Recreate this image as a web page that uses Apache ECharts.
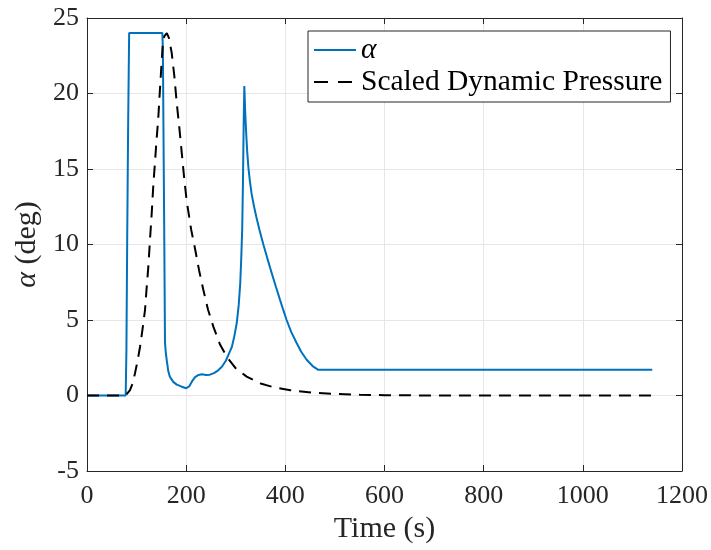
<!DOCTYPE html>
<html>
<head>
<meta charset="utf-8">
<script src="https://cdn.jsdelivr.net/npm/echarts@6/dist/echarts.min.js"></script>
<style>
html,body{margin:0;padding:0;background:#fff;}
#chart{width:711px;height:550px;}
</style>
</head>
<body>
<div id="chart"></div>
<script>
// ---- data ----
const xTicks = [0, 200, 400, 600, 800, 1000, 1200];
const yTicks = [-5, 0, 5, 10, 15, 20, 25];

const alphaTime = [0, 78, 79.5, 81, 83, 85, 152, 153, 155.5, 157.3, 159, 161, 164, 167, 174, 181, 190, 200, 203, 206, 212, 218, 225, 232, 240, 248, 256, 264, 272, 280, 288, 292, 297, 302, 306, 309, 311, 313, 314.5, 316, 317.3, 319, 321, 323, 325.5, 328.5, 332, 337, 342, 348, 355.7, 364, 372.6, 381, 389.3, 396, 402.6, 412, 422.8, 432, 443, 455, 466.5, 1140];
const alphaVal  = [0, 0, 3, 10, 18, 24, 24, 23, 12, 3.5, 2.8, 2.3, 1.6, 1.25, 0.9, 0.72, 0.6, 0.48, 0.5, 0.6, 0.95, 1.22, 1.36, 1.4, 1.36, 1.38, 1.48, 1.65, 1.9, 2.3, 2.9, 3.2, 3.9, 4.8, 6, 7.4, 9, 11, 14, 18, 20.5, 18.8, 17.4, 16.2, 15.1, 14.2, 13.35, 12.5, 11.75, 10.95, 10.0, 9.05, 8.1, 7.2, 6.33, 5.65, 5.0, 4.2, 3.48, 2.9, 2.37, 1.95, 1.7, 1.7];

const qTime = [0, 78, 80, 86.7, 92, 96.8, 102, 107, 112, 117, 120, 123.7, 127, 130.4, 133.7, 137, 140, 143.8, 147, 152.5, 156, 161, 165, 170.8, 176, 180.9, 186, 191, 196, 201, 210, 218, 226, 234.6, 244, 254.8, 268, 281.8, 300, 322, 350, 376, 410, 456, 500, 550, 600, 700, 1140];
const qVal  = [0, 0, 0.03, 0.36, 0.8, 1.47, 2.3, 3.23, 4.4, 5.66, 7, 8.53, 10.3, 12.0, 13.9, 15.4, 16.8, 18.4, 20.2, 23.1, 23.8, 24, 23.7, 22.7, 21.2, 19.4, 17.8, 16.1, 14.4, 12.9, 11.0, 9.7, 8.3, 7.0, 5.7, 4.56, 3.4, 2.57, 1.8, 1.25, 0.8, 0.55, 0.35, 0.18, 0.1, 0.05, 0.02, 0, 0];

const seriesNames = ['α', 'Scaled Dynamic Pressure'];

// ---- build ----
const pairs = (t, v) => t.map((x, i) => [x, v[i]]);
const FONT = '"Liberation Serif", "DejaVu Serif", serif';
const TXT = '#262626';
const AX = '#262626';

const chart = echarts.init(document.getElementById('chart'), null, {renderer: 'canvas'});

const baseX = {
  type: 'value', min: xTicks[0], max: xTicks[xTicks.length - 1], interval: 200
};
const baseY = {
  type: 'value', min: yTicks[0], max: yTicks[yTicks.length - 1], interval: 5
};
const plain = v => String(v);

chart.setOption({
  animation: false,
  backgroundColor: '#ffffff',
  grid: {left: 87, right: 29, top: 18, bottom: 79, containLabel: false},
  xAxis: [
    Object.assign({}, baseX, {
      position: 'bottom',
      name: 'Time (s)', nameLocation: 'middle', nameGap: 42,
      nameTextStyle: {fontFamily: FONT, fontSize: 30, color: TXT},
      axisLine: {show: true, onZero: false, lineStyle: {color: AX, width: 1}},
      axisTick: {show: true, inside: true, length: 6, lineStyle: {color: AX}},
      axisLabel: {fontFamily: FONT, fontSize: 26, color: TXT, margin: 12, formatter: plain},
      splitLine: {show: true, lineStyle: {color: '#e6e6e6', width: 1}}
    }),
    Object.assign({}, baseX, {
      position: 'top',
      axisLine: {show: true, onZero: false, lineStyle: {color: AX, width: 1}},
      axisTick: {show: true, inside: true, length: 6, lineStyle: {color: AX}},
      axisLabel: {show: false},
      splitLine: {show: false}
    })
  ],
  yAxis: [
    Object.assign({}, baseY, {
      position: 'left',
      name: '{a|α} (deg)', nameLocation: 'middle', nameGap: 44, nameRotate: 90,
      nameTextStyle: {fontFamily: FONT, fontSize: 30, color: TXT,
        rich: {a: {fontFamily: FONT, fontSize: 30, fontStyle: 'italic', color: TXT}}},
      axisLine: {show: true, onZero: false, lineStyle: {color: AX, width: 1}},
      axisTick: {show: true, inside: true, length: 6, lineStyle: {color: AX}},
      axisLabel: {fontFamily: FONT, fontSize: 26, color: TXT, margin: 8, formatter: plain},
      splitLine: {show: true, lineStyle: {color: '#e6e6e6', width: 1}}
    }),
    Object.assign({}, baseY, {
      position: 'right',
      axisLine: {show: true, onZero: false, lineStyle: {color: AX, width: 1}},
      axisTick: {show: true, inside: true, length: 6, lineStyle: {color: AX}},
      axisLabel: {show: false},
      splitLine: {show: false}
    })
  ],
  legend: {
    show: true,
    orient: 'vertical',
    left: 308, top: 31,
    padding: [4, 8, 5, 5],
    itemWidth: 42, itemHeight: 20, itemGap: 2,
    backgroundColor: '#ffffff',
    borderColor: AX, borderWidth: 1,
    itemStyle: {opacity: 0},
    textStyle: {fontFamily: FONT, fontSize: 29.5, color: '#000', lineHeight: 29,
      rich: {a: {fontFamily: FONT, fontSize: 29.5, fontStyle: 'italic', color: '#000', lineHeight: 29}}},
    formatter: function (name) { return name === 'α' ? '{a|α}' : name; },
    data: [
      {name: seriesNames[0]},
      {name: seriesNames[1], lineStyle: {type: [14, 10]}}
    ]
  },
  series: [
    {
      name: seriesNames[0], type: 'line', xAxisIndex: 0, yAxisIndex: 0,
      data: pairs(alphaTime, alphaVal),
      showSymbol: false, symbol: 'none',
      lineStyle: {color: '#0072BD', width: 2},
      itemStyle: {color: '#0072BD'},
      z: 2
    },
    {
      name: seriesNames[1], type: 'line', xAxisIndex: 0, yAxisIndex: 0,
      data: pairs(qTime, qVal),
      showSymbol: false, symbol: 'none',
      lineStyle: {color: '#000000', width: 2, type: [12, 8]},
      itemStyle: {color: '#000000'},
      z: 3
    }
  ]
});
</script>
</body>
</html>
